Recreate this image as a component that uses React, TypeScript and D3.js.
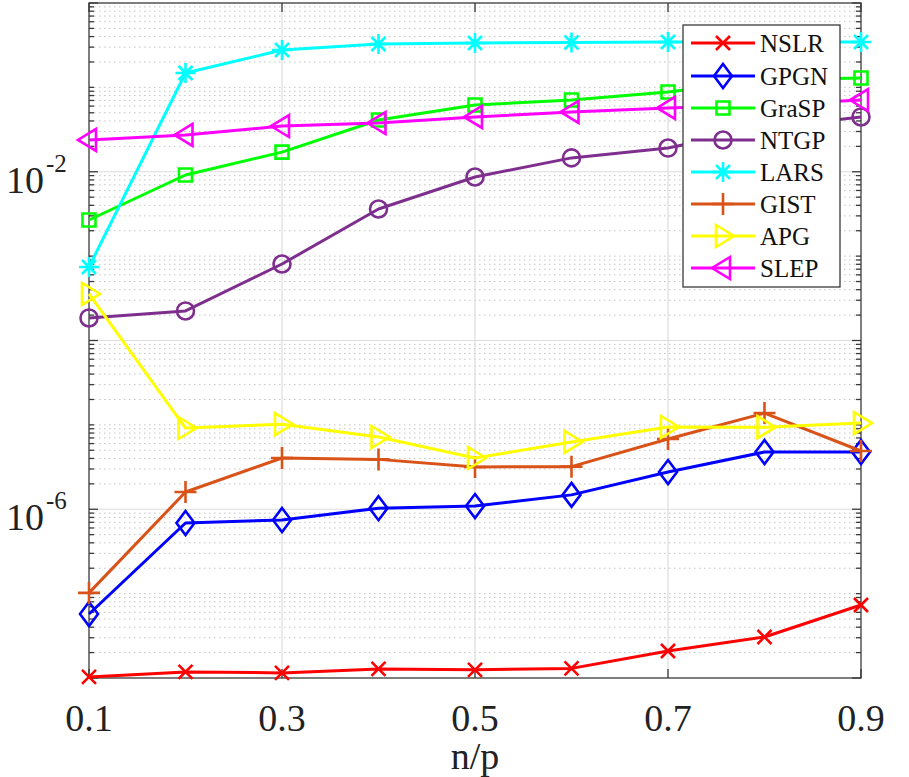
import React from "react";
import * as d3 from "d3";

// n/p ratios on the x axis
const ratios = [0.1, 0.2, 0.3, 0.4, 0.5, 0.6, 0.7, 0.8, 0.9];

// error values per method
const nslr = [1.03e-8, 1.18e-8, 1.15e-8, 1.28e-8, 1.25e-8, 1.3e-8, 2.09e-8, 3.06e-8, 7.33e-8];
const gpgn = [5.74e-8, 6.87e-7, 7.46e-7, 1.03e-6, 1.09e-6, 1.48e-6, 2.76e-6, 4.77e-6, 4.77e-6];
const grasp = [2.68e-3, 9.15e-3, 1.71e-2, 4.1e-2, 6.18e-2, 7.08e-2, 8.81e-2, 0.122, 0.129];
const ntgp = [1.85e-4, 2.24e-4, 8.07e-4, 3.62e-3, 8.67e-3, 1.46e-2, 1.91e-2, 3.3e-2, 4.46e-2];
const lars = [7.43e-4, 0.148, 0.277, 0.327, 0.336, 0.34, 0.345, 0.345, 0.345];
const gist = [1.02e-7, 1.6e-6, 4.05e-6, 3.9e-6, 3.17e-6, 3.2e-6, 6.81e-6, 1.38e-5, 4.9e-6];
const apg = [3.56e-4, 9.18e-6, 1.02e-5, 7.18e-6, 4.05e-6, 6.27e-6, 9.44e-6, 9.4e-6, 1.05e-5];
const slep = [2.38e-2, 2.73e-2, 3.48e-2, 3.78e-2, 4.46e-2, 5.11e-2, 5.7e-2, 6.18e-2, 7.08e-2];

const seriesNames = ["NSLR", "GPGN", "GraSP", "NTGP", "LARS", "GIST", "APG", "SLEP"];
const seriesValues = [nslr, gpgn, grasp, ntgp, lars, gist, apg, slep];
const seriesColors = ["#ff0000", "#0000ff", "#00ff00", "#7e2f8e", "#00ffff", "#d95319", "#ffff00", "#ff00ff"];
const seriesMarkers = ["x", "d", "s", "o", "*", "+", ">", "<"];

const xTickLabels = [0.1, 0.3, 0.5, 0.7, 0.9];
const yLabelExps = [-2, -6];
const yMajorExps = [-8, -6, -4, -2, 0];

const W = 909;
const H = 777;
const left = 89;
const right = 861;
const top = 3;
const bottom = 678;
const serif = "Liberation Serif";
const axisColor = "#3a3a3a";

function markerPath(kind: string): string {
  switch (kind) {
    case "x":
      return "M-7,-7L7,7M-7,7L7,-7";
    case "d":
      return "M0,-12L9,0L0,12L-9,0Z";
    case "s":
      return "M-6.5,-6.5H6.5V6.5H-6.5Z";
    case "o":
      return d3.symbol(d3.symbolCircle, Math.PI * 8.5 * 8.5)()!;
    case "*":
      return "M0,-10V10M-10,0H10M-7,-7L7,7M-7,7L7,-7";
    case "+":
      return "M0,-11V11M-11,0H11";
    case ">":
      return "M-7,-11L11,0L-7,11Z";
    case "<":
      return "M7,-11L-11,0L7,11Z";
    default:
      return "";
  }
}

export default function App() {
  const x = d3.scaleLinear().domain([0.1, 0.9]).range([left, right]);
  const y = d3.scaleLog().domain([1e-8, 1]).range([bottom, top]);

  const line = d3
    .line<number>()
    .x((_, i) => x(ratios[i]))
    .y((d) => y(d));

  const minorVals: number[] = [];
  for (let e = -8; e < 0; e++) {
    for (let k = 1; k <= 9; k++) {
      if (k === 1 && yMajorExps.includes(e)) continue;
      minorVals.push(k * Math.pow(10, e));
    }
  }
  const majorVals = yMajorExps.map((e) => Math.pow(10, e));

  const legendX = 683;
  const legendY = 25;
  const legendW = 157;
  const legendH = 262;
  const rowH = 32;

  return (
    <svg
      width={W}
      height={H}
      style={{ position: "absolute", left: 0, top: 0, background: "#fff" }}
    >
      <rect x={0} y={0} width={W} height={H} fill="#fff" />
      {/* minor grid */}
      <g stroke="#c4c4c4" strokeWidth={1} strokeDasharray="1.5,3.5">
        {minorVals.map((v) => (
          <line key={v} x1={left} x2={right} y1={y(v)} y2={y(v)} />
        ))}
      </g>
      {/* major grid */}
      <g stroke="#dcdcdc" strokeWidth={1.2}>
        {majorVals
          .filter((v) => v > 1e-8 && v < 1)
          .map((v) => (
            <line key={v} x1={left} x2={right} y1={y(v)} y2={y(v)} />
          ))}
        {xTickLabels
          .filter((t) => t > 0.1 && t < 0.9)
          .map((t) => (
            <line key={t} x1={x(t)} x2={x(t)} y1={top} y2={bottom} />
          ))}
      </g>
      {/* axes box and ticks */}
      <g stroke={axisColor} strokeWidth={1.3} fill="none">
        <rect x={left} y={top} width={right - left} height={bottom - top} />
        {minorVals.map((v) => (
          <g key={v}>
            <line x1={left} x2={left + 5} y1={y(v)} y2={y(v)} />
            <line x1={right} x2={right - 5} y1={y(v)} y2={y(v)} />
          </g>
        ))}
        {majorVals.map((v) => (
          <g key={v}>
            <line x1={left} x2={left + 9} y1={y(v)} y2={y(v)} />
            <line x1={right} x2={right - 9} y1={y(v)} y2={y(v)} />
          </g>
        ))}
        {xTickLabels.map((t) => (
          <g key={t}>
            <line x1={x(t)} x2={x(t)} y1={bottom} y2={bottom - 9} />
            <line x1={x(t)} x2={x(t)} y1={top} y2={top + 9} />
          </g>
        ))}
      </g>
      {/* tick labels */}
      <g fill="#222" fontSize={38} style={{ fontFamily: serif }}>
        {xTickLabels.map((t) => (
          <text key={t} x={x(t)} y={731} textAnchor="middle">
            {t.toFixed(1)}
          </text>
        ))}
        {yLabelExps.map((e) => (
          <text key={e} x={6} y={y(Math.pow(10, e)) + 21}>
            10
            <tspan fontSize={25} dy={-21} dx={2}>
              {String(e)}
            </tspan>
          </text>
        ))}
        <text x={(left + right) / 2} y={769} textAnchor="middle">
          n/p
        </text>
      </g>
      {/* series */}
      {seriesValues.map((vals, si) => (
        <g key={seriesNames[si]} stroke={seriesColors[si]} fill="none">
          <path d={line(vals)!} strokeWidth={3} strokeLinejoin="round" />
          {vals.map((v, i) => (
            <path
              key={i}
              d={markerPath(seriesMarkers[si])}
              transform={`translate(${x(ratios[i])},${y(v)})`}
              strokeWidth={2.6}
            />
          ))}
        </g>
      ))}
      {/* legend */}
      <g>
        <rect
          x={legendX}
          y={legendY}
          width={legendW}
          height={legendH}
          fill="#fff"
          stroke={axisColor}
          strokeWidth={1.3}
        />
        {seriesNames.map((name, i) => {
          const cy = legendY + 18 + i * rowH + (i > 0 ? 1 : 0);
          return (
            <g key={name}>
              <line
                x1={legendX + 8}
                x2={legendX + 72}
                y1={cy}
                y2={cy}
                stroke={seriesColors[i]}
                strokeWidth={3}
              />
              <path
                d={markerPath(seriesMarkers[i])}
                transform={`translate(${legendX + 40},${cy})`}
                stroke={seriesColors[i]}
                strokeWidth={2.6}
                fill="none"
              />
              <text
                x={legendX + 77}
                y={cy + 9}
                fontSize={25}
                fill="#111"
                style={{ fontFamily: serif }}
              >
                {name}
              </text>
            </g>
          );
        })}
      </g>
    </svg>
  );
}
